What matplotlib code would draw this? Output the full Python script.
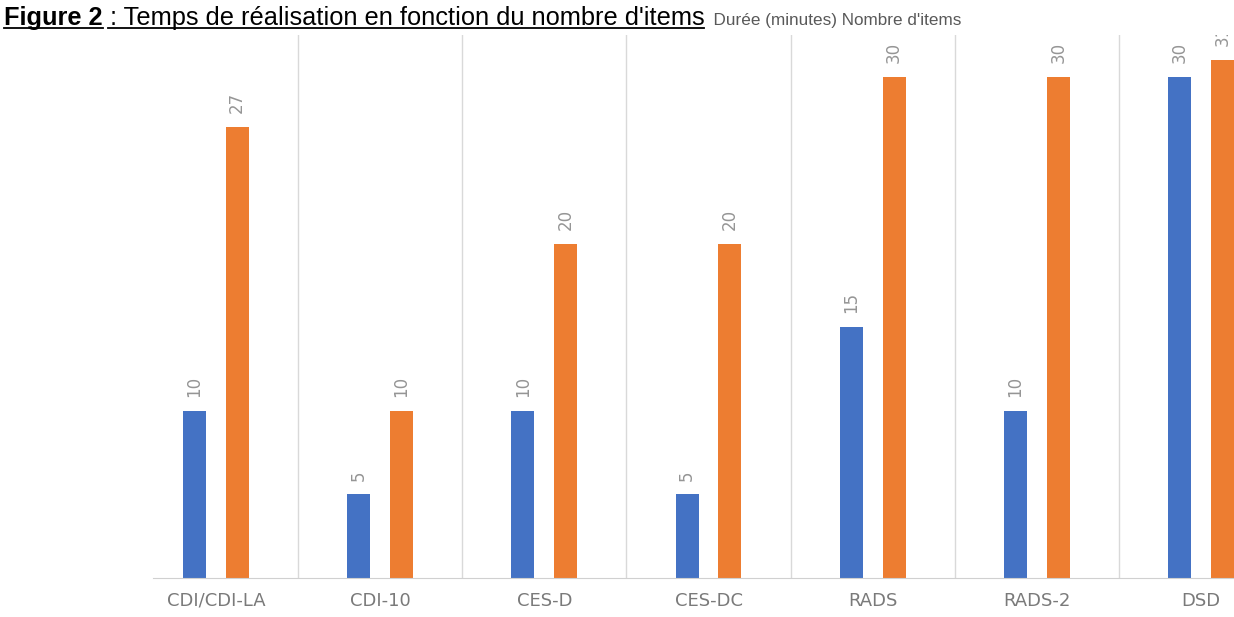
import numpy as np
import matplotlib.pyplot as plt
from matplotlib.lines import Line2D

categories = ["CDI/CDI-LA", "CDI-10", "CES-D", "CES-DC", "RADS", "RADS-2", "DSD"]
duree = [10, 5, 10, 5, 15, 10, 30]
items = [27, 10, 20, 20, 30, 30, 31]

BLUE = "#4472C4"
ORANGE = "#ED7D31"
W, H = 1234, 617

fig = plt.figure(figsize=(W / 100, H / 100), dpi=100)
ax = fig.add_axes([153 / W, (H - 578) / H, 1081 / W, (578 - 35) / H])

x = np.arange(len(categories))
off, bw = 0.13, 0.14
b1 = ax.bar(x - off, duree, width=bw, color=BLUE)
b2 = ax.bar(x + off, items, width=bw, color=ORANGE)

for bars, vals in [(b1, duree), (b2, items)]:
    for rect, v in zip(bars, vals):
        ax.annotate(str(v), (rect.get_x() + rect.get_width() / 2, v),
                    xytext=(0, 10), textcoords="offset points",
                    rotation=90, ha="center", va="bottom",
                    fontsize=12, color="#959595", family="DejaVu Sans",
                    annotation_clip=False, clip_on=True)

for k in range(len(categories) - 1):
    ax.axvline(k + 0.5, color="#d9d9d9", lw=1, zorder=0)

ax.set_xlim(-0.383, 6.20)
ax.set_ylim(0, 32.5)
ax.set_xticks(x)
ax.set_xticklabels(categories, fontsize=13, color="#7a7a7a", family="DejaVu Sans")
ax.tick_params(axis="x", length=0, pad=10)
ax.set_yticks([])
for s in ["top", "left", "right"]:
    ax.spines[s].set_visible(False)
ax.spines["bottom"].set_color("#d0d0d0")

# title with underline, placed piece by piece
renderer = fig.canvas.get_renderer()
base_y = (H - 25) / H
xpos = 4
pieces = [
    ("Figure 2", dict(fontsize=18.3, fontweight="bold", color="black", family="Liberation Sans"), True),
    (" : Temps de réalisation en fonction du nombre d'items",
     dict(fontsize=18.3, color="black", family="Liberation Sans"), True),
    ("  Durée (minutes) Nombre d'items", dict(fontsize=12.3, color="#595959", family="Liberation Sans"), False),
]
for text, kw, underline in pieces:
    t = fig.text(xpos / W, base_y, text, va="baseline", ha="left", **kw)
    bb = t.get_window_extent(renderer)
    if underline:
        x0 = bb.x0 + (5 if text.startswith(" ") else 0)
        fig.add_artist(Line2D([x0 / W, bb.x1 / W], [base_y - 3 / H, base_y - 3 / H],
                              color="black", lw=1.3, transform=fig.transFigure))
    xpos = bb.x1

fig.savefig("out.png", dpi=100)
